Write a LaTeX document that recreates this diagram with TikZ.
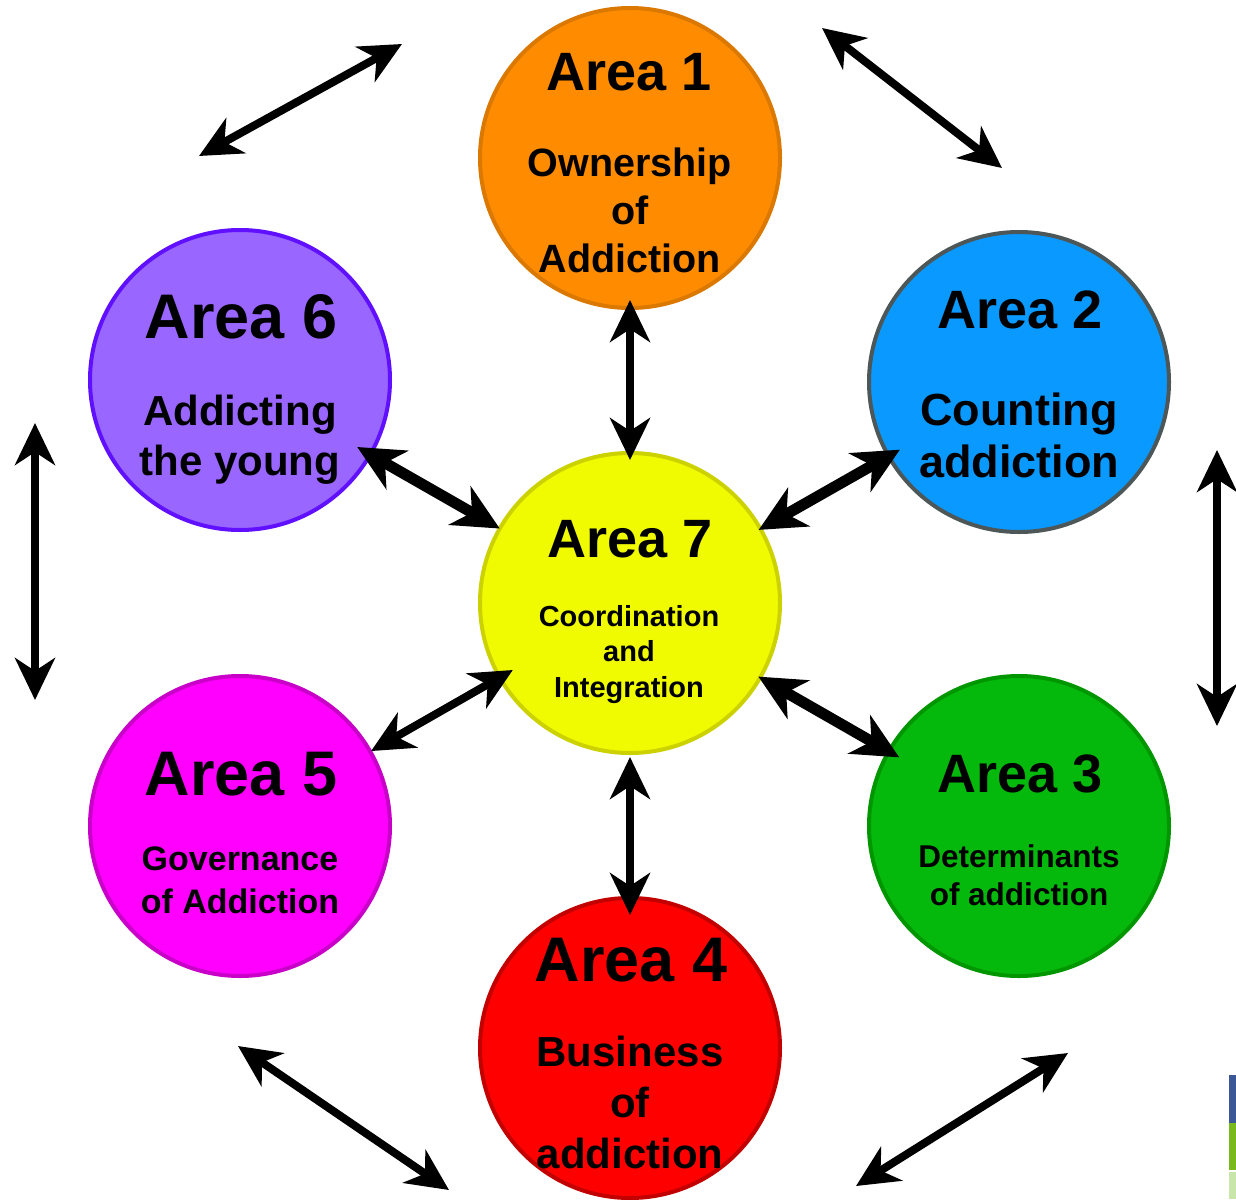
\documentclass[tikz,border=0pt]{standalone}
\usepackage{fontspec}
\setmainfont{Liberation Sans}
\usetikzlibrary{arrows.meta}
\definecolor{c1fill}{RGB}{255,140,0}
\definecolor{c1line}{RGB}{218,120,0}
\definecolor{c2fill}{RGB}{10,153,255}
\definecolor{c2line}{RGB}{77,87,87}
\definecolor{c3fill}{RGB}{5,185,12}
\definecolor{c3line}{RGB}{0,150,0}
\definecolor{c4fill}{RGB}{255,0,0}
\definecolor{c4line}{RGB}{195,0,0}
\definecolor{c5fill}{RGB}{255,0,255}
\definecolor{c5line}{RGB}{200,0,200}
\definecolor{c6fill}{RGB}{153,102,255}
\definecolor{c6line}{RGB}{96,16,255}
\definecolor{c7fill}{RGB}{240,250,0}
\definecolor{c7line}{RGB}{204,210,0}
\definecolor{artblue}{RGB}{59,87,150}
\definecolor{artgreen}{RGB}{122,185,30}
\definecolor{artlight}{RGB}{200,230,170}
\tikzset{
  area/.style={circle, draw=#1line, fill=#1fill, line width=4pt, minimum size=300pt, inner sep=0pt},
  lbl/.style={inner sep=0pt, outer sep=0pt, align=center, anchor=base},
  ttl/.style={lbl, font=\bfseries\fontsize{54}{54}\selectfont},
  bigttl/.style={lbl, font=\bfseries\fontsize{63}{63}\selectfont},
  dbl/.style={line width=8pt, arrows={Stealth[length=42pt,width=40pt,inset=13pt]-Stealth[length=42pt,width=40pt,inset=13pt]}},
  dblheavy/.style={line width=11pt, arrows={Stealth[length=46pt,width=44pt,inset=14pt]-Stealth[length=46pt,width=44pt,inset=14pt]}},
}
\begin{document}
\begin{tikzpicture}[x=1pt,y=-1pt]
\useasboundingbox (0,0) rectangle (1236,1199);
\fill[white] (0,0) rectangle (1236,1199);

% circles
\node[area=c1] (a1) at (630,158) {};
\node[area=c2] (a2) at (1019,382) {};
\node[area=c3] (a3) at (1019,826) {};
\node[area=c4] (a4) at (630,1048) {};
\node[area=c5] (a5) at (240,826) {};
\node[area=c6] (a6) at (240,380) {};
\node[area=c7] (a7) at (630,603) {};

% texts (multi-line labels are placed by the baseline of their last line)
\node[ttl] (t1) at (629,90) {Area 1};
\node[lbl, font=\bfseries\fontsize{39.5}{48}\selectfont] (s1) at (630,272) {Ownership\\of\\Addiction};
\node[ttl] (t2) at (1020,328) {Area 2};
\node[lbl, font=\bfseries\fontsize{45}{52}\selectfont] (s2) at (1019,477) {Counting\\addiction};
\node[ttl] (t3) at (1020,792) {Area 3};
\node[lbl, font=\bfseries\fontsize{31.5}{38}\selectfont] (s3) at (1019,905) {Determinants\\of addiction};
\node[bigttl] (t4) at (631,981) {Area 4};
\node[lbl, font=\bfseries\fontsize{42}{51}\selectfont] (s4) at (630,1168) {Business\\of\\addiction};
\node[bigttl] (t5) at (241,795) {Area 5};
\node[lbl, font=\bfseries\fontsize{34}{43}\selectfont] (s5) at (240,913) {Governance\\of Addiction};
\node[bigttl] (t6) at (241,338) {Area 6};
\node[lbl, font=\bfseries\fontsize{42}{50}\selectfont] (s6) at (240,475) {Addicting\\the young};
\node[ttl] (t7) at (630,557) {Area 7};
\node[lbl, font=\bfseries\fontsize{29}{35.5}\selectfont] (s7) at (629,697) {Coordination\\and\\Integration};

% inner connectors
\draw[dbl, shorten <=142pt, shorten >=143pt] (a1.center) -- (a7.center);
\draw[dblheavy, shorten <=135pt, shorten >=150pt] (a6.center) -- (a7.center);
\draw[dblheavy, shorten <=137pt, shorten >=148pt] (a2.center) -- (a7.center);
\draw[dblheavy, shorten <=148pt, shorten >=138pt] (a7.center) -- (a3.center);
\draw[dbl, shorten <=135pt, shorten >=151pt] (a7.center) -- (a5.center);
\draw[dbl, shorten <=154pt, shorten >=133pt] (a7.center) -- (a4.center);

% outer connectors
\coordinate (o1a) at (199,156);
\coordinate (o1b) at (402,44);
\coordinate (o2a) at (822,28);
\coordinate (o2b) at (1002,168);
\coordinate (o3a) at (35,423);
\coordinate (o3b) at (35,700);
\coordinate (o4a) at (1217,450);
\coordinate (o4b) at (1217,726);
\coordinate (o5a) at (238,1046);
\coordinate (o5b) at (449,1190);
\coordinate (o6a) at (856,1186);
\coordinate (o6b) at (1068,1053);
\draw[dbl] (o1a) -- (o1b);
\draw[dbl] (o2a) -- (o2b);
\draw[dbl] (o3a) -- (o3b);
\draw[dbl] (o4a) -- (o4b);
\draw[dbl] (o5a) -- (o5b);
\draw[dbl] (o6a) -- (o6b);

% cropped fragment at bottom-right edge
\fill[artblue] (1229,1075) rectangle (1236,1123);
\fill[artgreen] (1229,1123) rectangle (1236,1170);
\fill[artlight] (1229,1172) rectangle (1236,1199);
\end{tikzpicture}
\end{document}
